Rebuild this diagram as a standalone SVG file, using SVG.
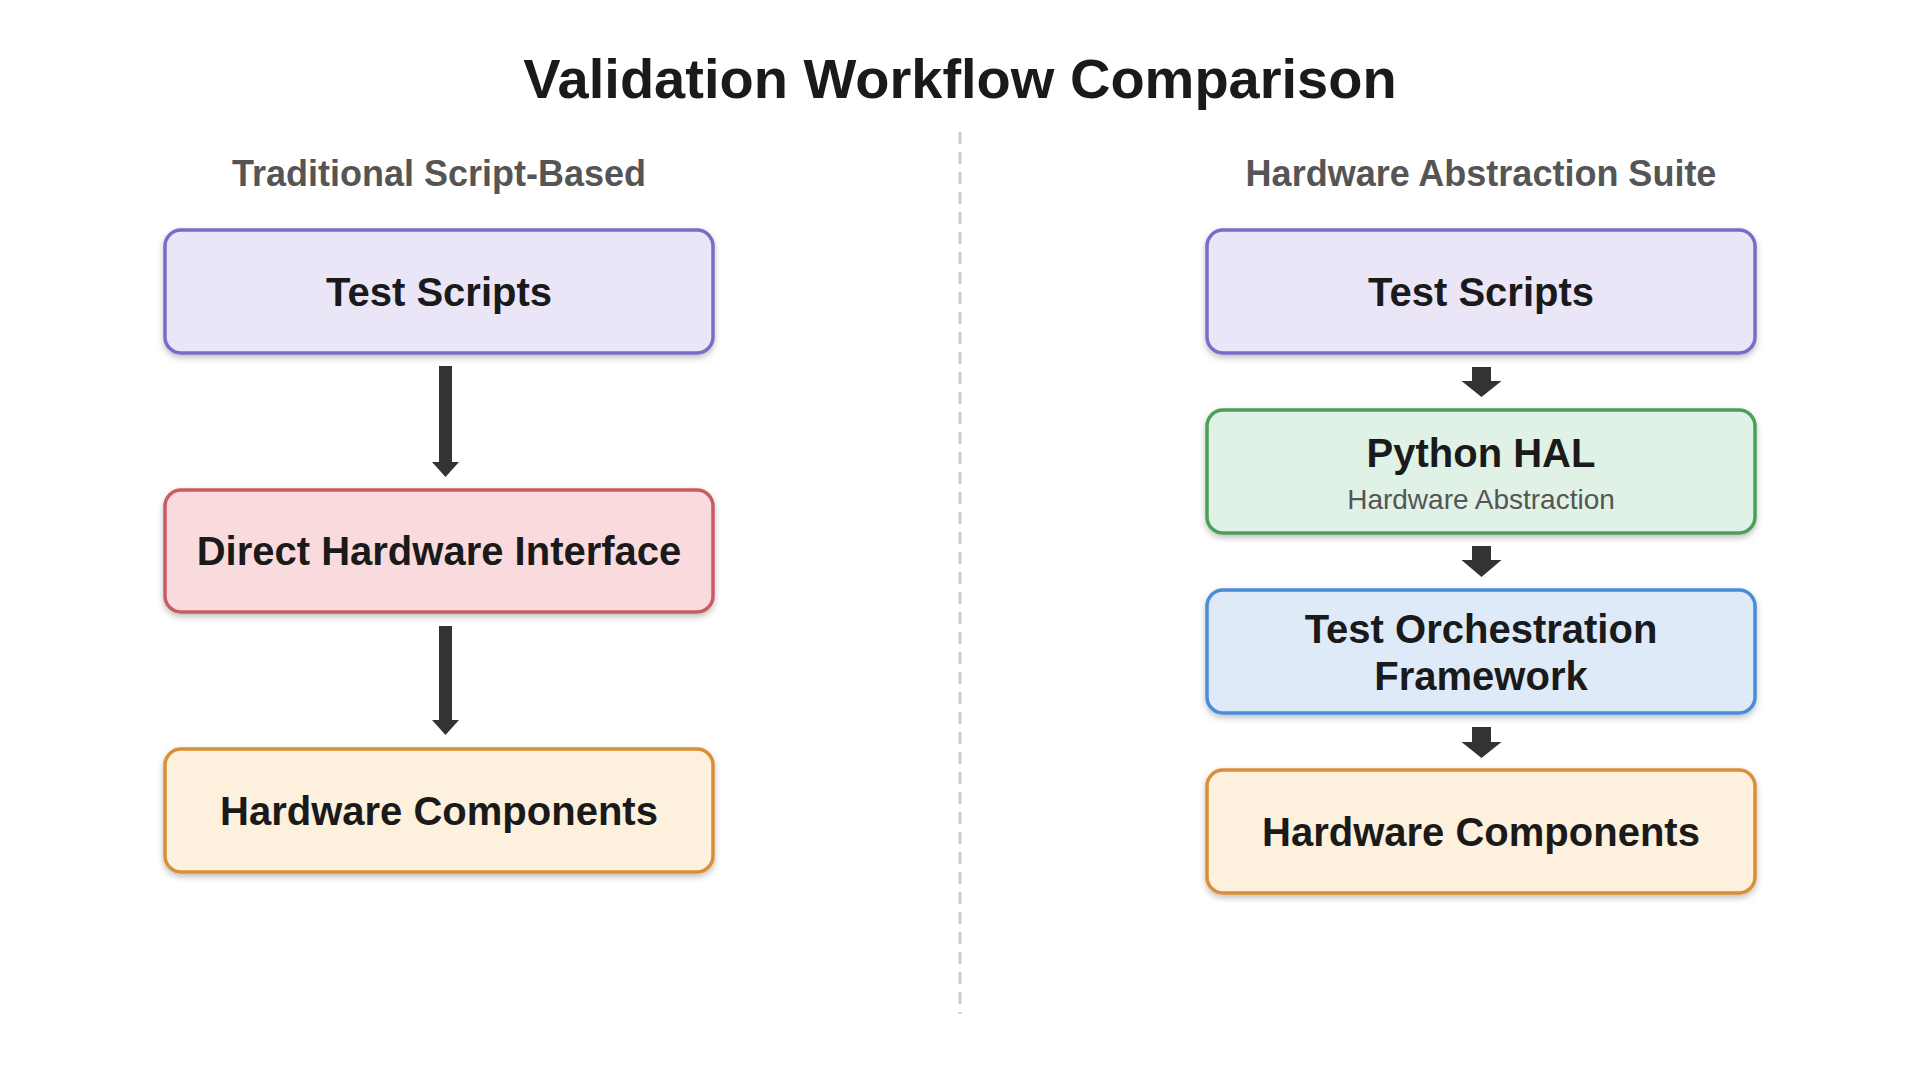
<svg xmlns="http://www.w3.org/2000/svg" width="1920" height="1080" viewBox="0 0 1920 1080">
  <defs>
    <filter id="shadow" x="-10%" y="-20%" width="120%" height="150%">
      <feDropShadow dx="0" dy="3" stdDeviation="3" flood-color="#000" flood-opacity="0.25"/>
    </filter>
  </defs>
  <style>
    .box { stroke-width: 3.5; filter: url(#shadow); }
    .purple { fill: #EAE6F8; stroke: #7D6BC6; }
    .red { fill: #FADBDD; stroke: #C95B62; }
    .green { fill: #E0F2E5; stroke: #4C9F5A; }
    .blue { fill: #DEEAF8; stroke: #4A8CD8; }
    .orange { fill: #FDF0DC; stroke: #D98E38; }
    .label { font-family: "Liberation Sans", Arial, sans-serif; font-weight: bold; font-size: 40px; fill: #1a1a1a; text-anchor: middle; }
    .sub { font-family: "Liberation Sans", Arial, sans-serif; font-size: 28px; fill: #555; text-anchor: middle; }
    .heading { font-family: "Liberation Sans", Arial, sans-serif; font-weight: bold; font-size: 36px; fill: #555; text-anchor: middle; }
    .title { font-family: "Liberation Sans", Arial, sans-serif; font-weight: bold; font-size: 56px; fill: #1a1a1a; text-anchor: middle; }
    .arrow { fill: #333; }
  </style>
  <rect width="1920" height="1080" fill="#fff"/>
  <text class="title" x="960" y="98">Validation Workflow Comparison</text>
  <text class="heading" x="439" y="186">Traditional Script-Based</text>
  <text class="heading" x="1481" y="186">Hardware Abstraction Suite</text>
  <line x1="960" y1="132" x2="960" y2="1014" stroke="#cccccc" stroke-width="3" stroke-dasharray="12 8"/>

  <g id="connectors">
    <polygon class="arrow" points="439,366 452,366 452,462 459,462 445.5,477 432,462 439,462"/>
    <polygon class="arrow" points="439,626 452,626 452,720 459,720 445.5,735 432,720 439,720"/>
    <polygon class="arrow" points="1472,367 1491,367 1491,381 1501.5,381 1481.5,397 1461.5,381 1472,381"/>
    <polygon class="arrow" points="1472,546 1491,546 1491,560 1501.5,560 1481.5,577 1461.5,560 1472,560"/>
    <polygon class="arrow" points="1472,727 1491,727 1491,742 1501.5,742 1481.5,758 1461.5,742 1472,742"/>
  </g>

  <g id="left-test-scripts">
    <rect class="box purple" x="165" y="230" width="548" height="123" rx="16"/>
    <text class="label" x="439" y="306">Test Scripts</text>
  </g>
  <g id="left-direct-hw">
    <rect class="box red" x="165" y="490" width="548" height="122" rx="16"/>
    <text class="label" x="439" y="565">Direct Hardware Interface</text>
  </g>
  <g id="left-hw-components">
    <rect class="box orange" x="165" y="749" width="548" height="123" rx="16"/>
    <text class="label" x="439" y="825">Hardware Components</text>
  </g>

  <g id="right-test-scripts">
    <rect class="box purple" x="1207" y="230" width="548" height="123" rx="16"/>
    <text class="label" x="1481" y="306">Test Scripts</text>
  </g>
  <g id="right-python-hal">
    <rect class="box green" x="1207" y="410" width="548" height="123" rx="16"/>
    <text class="label" x="1481" y="467">Python HAL</text>
    <text class="sub" x="1481" y="509">Hardware Abstraction</text>
  </g>
  <g id="right-orchestration">
    <rect class="box blue" x="1207" y="590" width="548" height="123" rx="16"/>
    <text class="label" x="1481" y="643">Test Orchestration</text>
    <text class="label" x="1481" y="690">Framework</text>
  </g>
  <g id="right-hw-components">
    <rect class="box orange" x="1207" y="770" width="548" height="123" rx="16"/>
    <text class="label" x="1481" y="846">Hardware Components</text>
  </g>
</svg>
